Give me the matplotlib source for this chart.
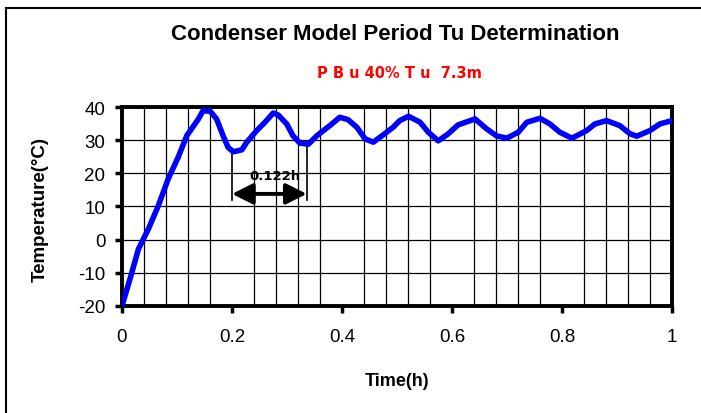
import numpy as np
import matplotlib.pyplot as plt
from matplotlib.lines import Line2D

plt.rcParams['font.family'] = ['Liberation Sans', 'DejaVu Sans']
plt.rcParams['axes.unicode_minus'] = False

# condenser temperature response
time_h = [0.0, 0.0145, 0.030, 0.048, 0.066, 0.084, 0.102, 0.118, 0.139, 0.147,
          0.160, 0.172, 0.184, 0.193, 0.2025, 0.218, 0.227, 0.245, 0.260, 0.275,
          0.284, 0.2995, 0.311, 0.3236, 0.339, 0.354, 0.378, 0.396, 0.411, 0.427,
          0.442, 0.457, 0.475, 0.493, 0.505, 0.521, 0.542, 0.557, 0.575, 0.593,
          0.611, 0.642, 0.663, 0.681, 0.6995, 0.7206, 0.736, 0.760, 0.778, 0.796,
          0.818, 0.845, 0.860, 0.881, 0.905, 0.924, 0.936, 0.960, 0.978, 1.0]
temp_c = [-20.0, -11.9, -2.8, 3.2, 10.2, 18.3, 24.8, 31.4, 36.4, 38.8,
          38.8, 36.4, 31.3, 27.8, 26.5, 27.1, 29.4, 32.9, 35.4, 38.2,
          37.6, 34.9, 31.3, 29.1, 28.8, 31.3, 34.4, 36.9, 36.2, 33.9,
          30.4, 29.4, 31.6, 33.9, 35.9, 37.2, 35.4, 32.4, 29.8, 31.9,
          34.6, 36.4, 33.4, 31.3, 30.6, 32.4, 35.4, 36.6, 34.9, 32.4,
          30.6, 32.9, 34.9, 35.9, 34.4, 31.9, 31.2, 32.9, 34.9, 35.9]

period_start = 0.2
period_end = 0.336
period_label = "0.122h"

x_ticks = [0, 0.2, 0.4, 0.6, 0.8, 1]
x_tick_labels = ["0", "0.2", "0.4", "0.6", "0.8", "1"]
y_ticks = [-20, -10, 0, 10, 20, 30, 40]

fig = plt.figure(figsize=(7.01, 4.14), dpi=100)
ax = fig.add_axes([0.174, 0.2585, 0.7846, 0.4806])

# outer chart frame (only top and left edges fall inside the image)
fig.lines.append(Line2D([6 / 701, 1.0], [1 - 9 / 414, 1 - 9 / 414],
                        transform=fig.transFigure, color='black', linewidth=1.5))
fig.lines.append(Line2D([6 / 701, 6 / 701], [0.0, 1 - 9 / 414],
                        transform=fig.transFigure, color='black', linewidth=1.5))

ax.plot(time_h, temp_c, color='#0000FF', linewidth=4.0, solid_joinstyle='round',
        solid_capstyle='round', zorder=3)

ax.set_xlim(0, 1)
ax.set_ylim(-20, 40)
ax.set_xticks(x_ticks)
ax.set_xticklabels(x_tick_labels)
ax.set_yticks(y_ticks)
ax.set_xticks(np.arange(0, 1.0001, 0.04), minor=True)
ax.tick_params(axis='x', which='minor', length=0)
ax.tick_params(axis='both', which='major', direction='out', length=5, width=2.5,
               labelsize=13.5)
ax.tick_params(axis='x', which='major', pad=11)
ax.tick_params(axis='y', which='major', pad=7)
ax.grid(True, which='both', color='black', linewidth=0.9)
ax.grid(False, which='major', axis='x')
for s in ax.spines.values():
    s.set_linewidth(2.8)

ax.set_xlabel("Time(h)", fontsize=13, fontweight='bold')
ax.xaxis.set_label_coords(0.5, -0.33)
ax.set_ylabel("Temperature(°C)", fontsize=13.5, fontweight='bold')
ax.yaxis.set_label_coords(-0.133, 0.49)

# period marker between two troughs
ax.plot([period_start, period_start], [12.0, 27.0], color='black', linewidth=1.2)
ax.plot([period_end, period_end], [12.0, 29.0], color='black', linewidth=1.2)
ax.annotate("", xy=(period_start, 13.8), xytext=(period_end, 13.8),
            arrowprops=dict(arrowstyle='<|-|>,head_length=0.7,head_width=0.35',
                            color='black', lw=2.8,
                            mutation_scale=18, shrinkA=0, shrinkB=0))
ax.text((period_start + period_end) / 2 + 0.01, 19.3, period_label, fontsize=9.5,
        fontweight='bold', family='DejaVu Sans', ha='center', va='center')

fig.text(0.5635, 0.9155, "Condenser Model Period Tu Determination", fontsize=16,
         fontweight='bold', ha='center', va='center')
fig.text(0.5705, 0.823, "P B u 40% T u  7.3m", fontsize=10.5, fontweight='bold',
         family='DejaVu Sans', color='#FF0000', ha='center', va='center')

fig.savefig("out.png", dpi=100)
